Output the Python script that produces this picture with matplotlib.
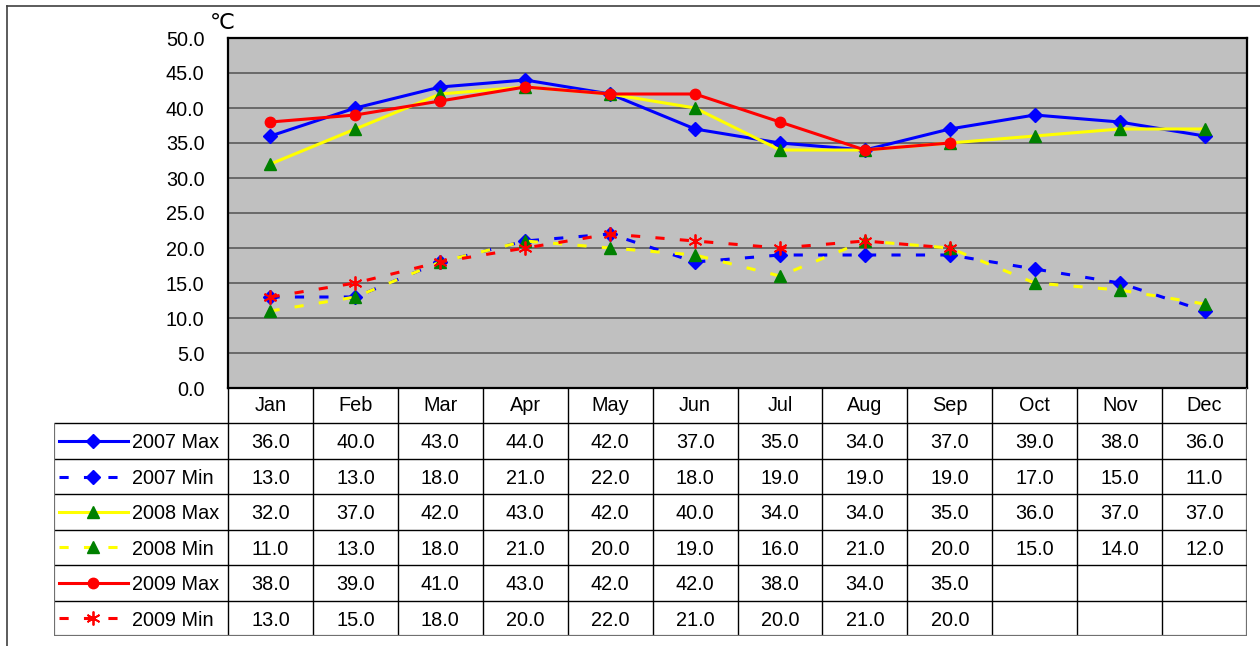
import matplotlib
matplotlib.use("Agg")
import matplotlib.pyplot as plt
from matplotlib.lines import Line2D
import numpy as np

plt.rcParams['font.family'] = ['Liberation Sans', 'DejaVu Sans']

months = ["Jan", "Feb", "Mar", "Apr", "May", "Jun", "Jul", "Aug", "Sep", "Oct", "Nov", "Dec"]
series_names = ["2007 Max", "2007 Min", "2008 Max", "2008 Min", "2009 Max", "2009 Min"]
max_2007 = [36, 40, 43, 44, 42, 37, 35, 34, 37, 39, 38, 36]
min_2007 = [13, 13, 18, 21, 22, 18, 19, 19, 19, 17, 15, 11]
max_2008 = [32, 37, 42, 43, 42, 40, 34, 34, 35, 36, 37, 37]
min_2008 = [11, 13, 18, 21, 20, 19, 16, 21, 20, 15, 14, 12]
max_2009 = [38, 39, 41, 43, 42, 42, 38, 34, 35]
min_2009 = [13, 15, 18, 20, 22, 21, 20, 21, 20]
yticks = [0, 5, 10, 15, 20, 25, 30, 35, 40, 45, 50]

data = [max_2007, min_2007, max_2008, min_2008, max_2009, min_2009]

FS = 14.3
DASH = (3.0, 5.0)
styles = [
    dict(color="#0000FF", ls="-", marker="D", mfc="#0000FF", mec="#0000FF", ms=7),
    dict(color="#0000FF", ls="--", marker="D", mfc="#0000FF", mec="#0000FF", ms=7),
    dict(color="#FFFF00", ls="-", marker="^", mfc="#008000", mec="#008000", ms=8.5),
    dict(color="#FFFF00", ls="--", marker="^", mfc="#008000", mec="#008000", ms=8.5),
    dict(color="#FF0000", ls="-", marker="o", mfc="#FF0000", mec="#FF0000", ms=7.5),
    dict(color="#FF0000", ls="--", marker=(6, 2, 0), mfc="#FF0000", mec="#FF0000", ms=10),
]

W, H = 1260, 646
fig = plt.figure(figsize=(W / 100, H / 100), dpi=100)

def fx(px):
    return px / W

def fy(py):
    return 1 - py / H

# plot axes
L, R, T, B = 228, 1247, 38, 388
ax = fig.add_axes([fx(L), fy(B), fx(R) - fx(L), fy(T) - fy(B)])
ax.set_facecolor("#C0C0C0")
ax.set_xlim(0, 12)
ax.set_ylim(0, 50)
ax.set_yticks(yticks)
ax.set_yticklabels([f"{v:.1f}" for v in yticks])
ax.set_xticks([])
ax.tick_params(axis="y", length=0, pad=17, labelsize=FS)
for v in yticks[1:-1]:
    ax.axhline(v, color="#5a5a5a", lw=1.2, zorder=1)
for s in ax.spines.values():
    s.set_color("black")
    s.set_linewidth(1.6)

xs = np.arange(12) + 0.5
for vals, st in zip(data, styles):
    x = xs[:len(vals)]
    kw = dict(color=st["color"], lw=2.2, marker=st["marker"], mfc=st["mfc"],
              mec=st["mec"], ms=st["ms"], zorder=3)
    if st["ls"] == "--":
        ln, = ax.plot(x, vals, ls="--", **kw)
        ln.set_dashes(DASH)
        if st["marker"] == (6, 2, 0):
            ln.set_markeredgewidth(1.3)
    else:
        ax.plot(x, vals, ls="-", **kw)

fig.text(fx(222), fy(23), "℃", fontsize=16, ha="center", va="center",
         family=["DejaVu Sans"])

# table axes
TL, TR, TT, TB = 54, 1247, 388, 636
colw = (R - L) / 12.0
lx = -(L - TL) / colw
tax = fig.add_axes([fx(TL), fy(TB), fx(TR) - fx(TL), fy(TT) - fy(TB)])
tax.set_xlim(lx, 12)
tax.set_ylim(7, 0)
tax.axis("off")

inner = dict(color="black", lw=1.0, solid_capstyle="butt")
outer = dict(color="#707070", lw=1.6, solid_capstyle="butt")
for i in range(0, 12):
    tax.plot([i, i], [0, 7], **inner)
tax.plot([12, 12], [0, 7], **outer)
for r in range(1, 7):
    tax.plot([lx, 12], [r, r], **inner)
tax.plot([lx, 12], [7, 7], **outer)
tax.plot([lx, lx], [1, 7], **outer)

for i, m in enumerate(months):
    tax.text(i + 0.5, 0.5, m, ha="center", va="center", fontsize=FS)

for r, (name, vals, st) in enumerate(zip(series_names, data, styles)):
    yc = r + 1.5
    for i, v in enumerate(vals):
        tax.text(i + 0.5, yc + 0.05, f"{v:.1f}", ha="center", va="center", fontsize=FS)
    x0 = -(L - 59) / colw
    x1 = -(L - 128) / colw
    ls = "--" if st["ls"] == "--" else "-"
    ln, = tax.plot([x0, x1], [yc, yc], color=st["color"], lw=2.2, ls=ls)
    if ls == "--":
        ln.set_dashes(DASH)
    mk, = tax.plot([(x0 + x1) / 2], [yc], ls="none", marker=st["marker"],
                   mfc=st["mfc"], mec=st["mec"], ms=st["ms"])
    if st["marker"] == (6, 2, 0):
        mk.set_markeredgewidth(1.3)
    tax.text(-(L - 132) / colw, yc + 0.05, name, ha="left", va="center", fontsize=FS)

# outer frame
fig.add_artist(Line2D([fx(7), 1], [fy(6), fy(6)], color="#404040", lw=1.2))
fig.add_artist(Line2D([fx(7), fx(7)], [fy(6), 0], color="#404040", lw=1.2))

fig.savefig("out.png", dpi=100)
